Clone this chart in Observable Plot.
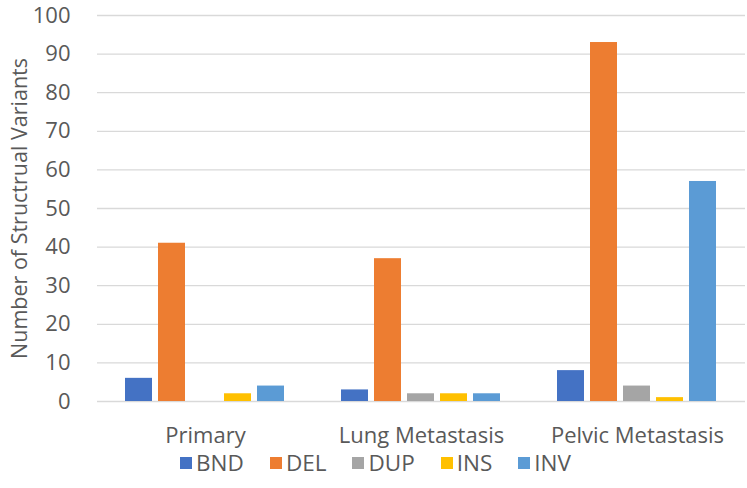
<!DOCTYPE html>
<html>
<head>
<meta charset="utf-8">
<script src="https://cdn.jsdelivr.net/npm/d3@7"></script>
<script src="https://cdn.jsdelivr.net/npm/@observablehq/plot@0.6"></script>
<style>
  html, body { margin: 0; padding: 0; background: #fff; }
  body { width: 747px; height: 488px; overflow: hidden; font-family: "Open Sans", sans-serif; color: #595959; }
  #legend { display: flex; justify-content: center; gap: 26px; font-size: 22.5px; line-height: 26px; margin-top: 0px; padding-left: 4px; }
  #legend span.item { display: flex; align-items: center; }
  #legend span.sw { display: inline-block; width: 12px; height: 12px; margin-right: 4px; }
</style>
</head>
<body>
<div id="chart"></div>
<div id="legend"></div>
<script>
const groups = ["Primary", "Lung Metastasis", "Pelvic Metastasis"];
const seriesNames = ["BND", "DEL", "DUP", "INS", "INV"];
const colors = ["#4472C4", "#ED7D31", "#A5A5A5", "#FFC000", "#5B9BD5"];
const BND = [6, 3, 8];
const DEL = [41, 37, 93];
const DUP = [0, 2, 4];
const INS = [2, 2, 1];
const INV = [4, 2, 57];
const yTicks = [0, 10, 20, 30, 40, 50, 60, 70, 80, 90, 100];
const yTitle = "Number of Structrual Variants";

const seriesValues = {BND, DEL, DUP, INS, INV};
const data = [];
groups.forEach((g, gi) => {
  seriesNames.forEach(s => data.push({group: g, series: s, value: seriesValues[s][gi]}));
});

const chart = Plot.plot({
  width: 747,
  height: 450,
  marginLeft: 97,
  marginRight: 2,
  marginTop: 15,
  marginBottom: 49,
  style: {fontFamily: "Open Sans, sans-serif", fontSize: "22px", color: "#595959", background: "white"},
  fx: {domain: groups, padding: 0, axis: "bottom", label: null, tickSize: 0, tickPadding: 26},
  x: {domain: seriesNames, paddingInner: 0.18, paddingOuter: 0.86, axis: null},
  y: {domain: [0, 100], ticks: yTicks, label: yTitle, labelAnchor: "center", labelOffset: 86, tickSize: 0, tickPadding: 27},
  color: {domain: seriesNames, range: colors},
  marks: [
    Plot.ruleY(yTicks, {stroke: "#D9D9D9", strokeWidth: 1.3}),
    Plot.barY(data, {fx: "group", x: "series", y: "value", fill: "series"})
  ]
});
// remove the automatic arrow from the y-axis title
d3.select(chart).selectAll("text").each(function() {
  const t = this.textContent;
  if (t.startsWith("Number of")) { d3.select(this).text(yTitle).style("font-size", "21.5px"); }
});
document.getElementById("chart").appendChild(chart);

const legend = document.getElementById("legend");
seriesNames.forEach((s, i) => {
  const item = document.createElement("span");
  item.className = "item";
  const sw = document.createElement("span");
  sw.className = "sw";
  sw.style.background = colors[i];
  item.appendChild(sw);
  item.appendChild(document.createTextNode(s));
  legend.appendChild(item);
});
</script>
</body>
</html>
